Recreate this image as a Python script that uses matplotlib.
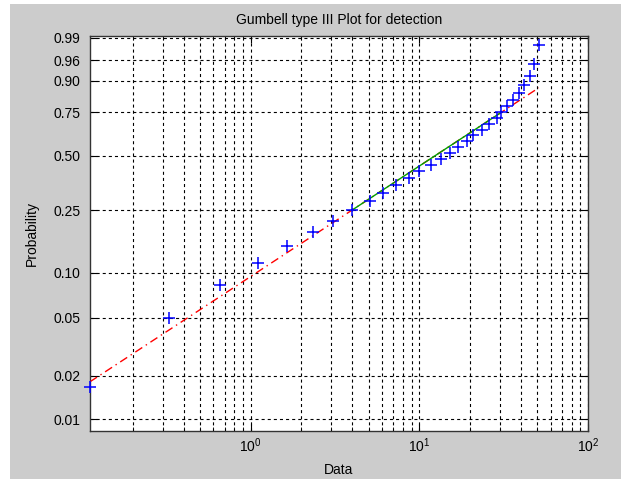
import numpy as np
import matplotlib
matplotlib.use('Agg')
import matplotlib.pyplot as plt
from matplotlib.patches import Rectangle
from matplotlib.ticker import FixedLocator, FixedFormatter, LogLocator, NullLocator

# sorted detection data, plotted at p = (i - 0.5) / n
data = [0.1114, 0.329, 0.6575, 1.105, 1.649, 2.332, 3.082, 3.962, 5.066, 6.05,
        7.285, 8.627, 9.96, 11.73, 13.36, 15.11, 17.03, 19.11, 20.91, 23.38,
        25.97, 28.9, 30.52, 32.9, 36.1, 38.77, 41.78, 45.11, 48.03, 51.08]
prob_ticks = [0.01, 0.02, 0.05, 0.10, 0.25, 0.50, 0.75, 0.90, 0.96, 0.99]
prob_labels = ['0.01', '0.02', '0.05', '0.10', '0.25', '0.50', '0.75', '0.90', '0.96', '0.99']

plt.rcParams['font.family'] = ['Liberation Sans', 'DejaVu Sans']
plt.rcParams['lines.scale_dashes'] = False

x = np.array(data)
n = len(x)
p = (np.arange(1, n + 1) - 0.5) / n


def fwd(v):
    v = np.clip(np.asarray(v, dtype=float), 1e-12, 1 - 1e-12)
    return np.log(-np.log(1 - v))


def inv(y):
    return 1 - np.exp(-np.exp(y))


# reference line through the quartiles
q1, q3 = np.quantile(x, [0.25, 0.75], method='hazen')
slope = (fwd(0.75) - fwd(0.25)) / (np.log(q3) - np.log(q1))


def line_p(xv):
    return inv(fwd(0.25) + slope * (np.log(xv) - np.log(q1)))


fig = plt.figure(figsize=(6.21, 4.79), dpi=100, facecolor='white')
fig.patches.append(Rectangle((10 / 621, 0), 1 - 10 / 621, 1 - 4 / 479,
                             transform=fig.transFigure, facecolor='#cccccc',
                             edgecolor='none', zorder=-10))
ax = fig.add_axes([90 / 621, 48 / 479, 498 / 621, 395 / 479])
ax.set_facecolor('white')
ax.set_xscale('log')
ax.set_yscale('function', functions=(fwd, inv))

xfull = np.geomspace(x.min(), x.max(), 200)
ax.plot(xfull, line_p(xfull), color='red', lw=1, linestyle=(0, (6, 3, 1, 3)), zorder=3)
xq = np.geomspace(q1, q3, 100)
ax.plot(xq, line_p(xq), color='#00a000', lw=1, zorder=4)
ax.plot(x, p, '+', color='blue', ms=9, mew=1.1, zorder=5, clip_on=False)

ax.set_xlim(x.min(), 100)
ax.set_ylim(0.0083, 0.9912)

ax.yaxis.set_major_locator(FixedLocator(prob_ticks))
ax.yaxis.set_major_formatter(FixedFormatter(prob_labels))
ax.yaxis.set_minor_locator(NullLocator())
ax.xaxis.set_major_locator(LogLocator(base=10))
ax.xaxis.set_minor_locator(LogLocator(base=10, subs=np.arange(2, 10)))

ax.grid(True, which='both', color='black', lw=0.8, linestyle=(0, (2.2, 2.2)))
ax.tick_params(which='both', direction='in', top=True, right=True, labelsize=10, color='black')
ax.tick_params(which='major', length=5)
ax.tick_params(which='minor', length=3)
ax.tick_params(axis='y', pad=7)
ax.tick_params(axis='x', pad=4)
for s in ax.spines.values():
    s.set_linewidth(1)
    s.set_color('#333333')

ax.set_title('Gumbell type III Plot for detection', fontsize=10, pad=9)
ax.set_xlabel('Data', fontsize=10, labelpad=6)
ax.set_ylabel('Probability', fontsize=10, labelpad=10)

fig.savefig('out.png', dpi=100, facecolor=fig.get_facecolor())
